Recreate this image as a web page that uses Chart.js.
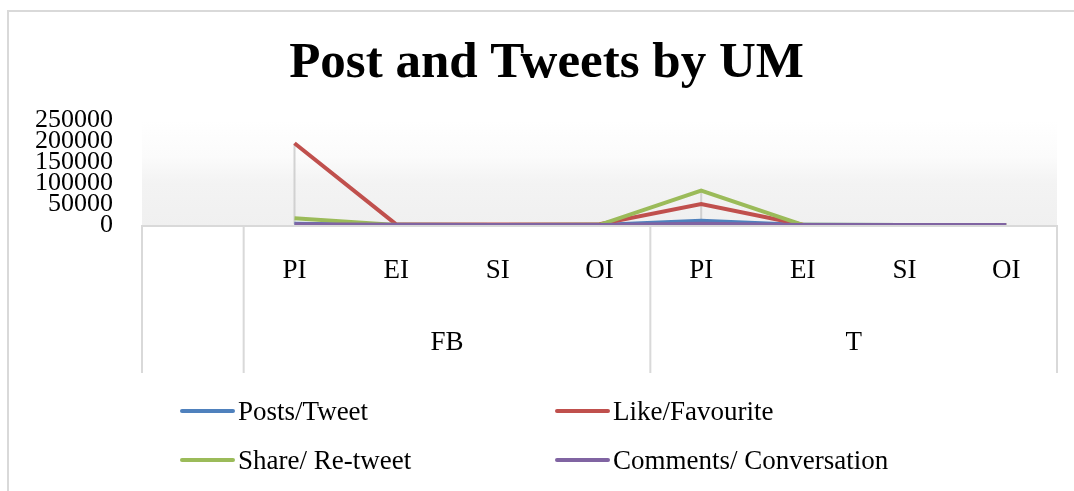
<!DOCTYPE html>
<html>
<head>
<meta charset="utf-8">
<script src="https://cdn.jsdelivr.net/npm/chart.js@4.4.1/dist/chart.umd.min.js"></script>
<style>
  html, body { margin: 0; padding: 0; background: #fff; }
  #wrap { position: relative; width: 1074px; height: 491px; overflow: hidden; }
  #frame { position: absolute; left: 7px; top: 10px; width: 1100px; height: 600px;
           border-left: 2px solid #d9d9d9; border-top: 2px solid #d9d9d9; }
  #chart { position: absolute; left: 0; top: 0; }
  #legend { position: absolute; left: 0; top: 0; width: 1074px; height: 491px; pointer-events: none;
            font-family: "Liberation Serif", "Times New Roman", serif; font-size: 27px; color: #000; }
  .item { position: absolute; display: flex; align-items: center; white-space: nowrap; }
  .item span.swatch { display: inline-block; width: 55px; height: 4px; border-radius: 2px; margin-right: 3px; }
</style>
</head>
<body>
<div id="wrap">
  <div id="frame"></div>
  <canvas id="chart" width="1074" height="491"></canvas>
  <div id="legend"></div>
</div>
<script>
// categories: first slot is empty in the original sheet
const subLabels = ['', 'PI', 'EI', 'SI', 'OI', 'PI', 'EI', 'SI', 'OI'];
const groupLabels = ['', 'FB', 'T'];
const groupSpans = [1, 4, 4]; // how many categories each group covers

const posts    = [null, 3000,   200,  100,  300, 10000, 300, 100, 200];
const likes    = [null, 195000, 1500, 1000, 2000, 50000, 500, 100, 200];
const shares   = [null, 16000,  300,  200,  500, 82000, 300, 100, 100];
const comments = [null, 2000,   300,  100,  200, 3000,  100, 50,  50];

const seriesNames = ['Posts/Tweet', 'Like/Favourite', 'Share/ Re-tweet', 'Comments/ Conversation'];
const seriesColors = ['#4f81bd', '#c0504d', '#9bbb59', '#8064a2'];

const FONT = '"Liberation Serif", "Times New Roman", serif';

function groupEdges(x) {
  const step = x.getPixelForValue(1) - x.getPixelForValue(0);
  const edges = [x.getPixelForValue(0) - step / 2];
  let idx = 0;
  groupSpans.forEach(n => { idx += n; edges.push(x.getPixelForValue(idx - 1) + step / 2); });
  return edges;
}

// gradient plot background, axis line, group dividers, faint high-low lines
const plotBg = {
  id: 'plotBg',
  beforeDatasetsDraw(chart) {
    const { ctx, chartArea: a } = chart;
    const x = chart.scales.x, y = chart.scales.y;
    ctx.save();
    const g = ctx.createLinearGradient(0, a.top, 0, a.bottom);
    g.addColorStop(0, '#ffffff');
    g.addColorStop(0.35, '#fbfbfb');
    g.addColorStop(0.6, '#f3f3f3');
    g.addColorStop(1, '#f0f0f0');
    ctx.fillStyle = g;
    ctx.fillRect(a.left, a.top, a.right - a.left, a.bottom - a.top);

    ctx.strokeStyle = '#d9d9d9';
    ctx.lineWidth = 2;
    ctx.beginPath();
    ctx.moveTo(a.left, a.bottom + 1);
    ctx.lineTo(a.right, a.bottom + 1);
    groupEdges(x).forEach(e => { ctx.moveTo(e, a.bottom); ctx.lineTo(e, x.bottom); });
    ctx.stroke();

    const all = chart.data.datasets.map(d => d.data);
    ctx.strokeStyle = 'rgba(200,200,200,0.8)';
    for (let i = 0; i < subLabels.length; i++) {
      const vals = all.map(d => d[i]).filter(v => v != null);
      if (!vals.length) continue;
      const px = x.getPixelForValue(i);
      ctx.beginPath();
      ctx.moveTo(px, y.getPixelForValue(Math.max(...vals)));
      ctx.lineTo(px, y.getPixelForValue(Math.min(...vals)));
      ctx.stroke();
    }
    ctx.restore();
  }
};

// second level of the category axis
const groupAxis = {
  id: 'groupAxis',
  afterDraw(chart) {
    const { ctx, chartArea: a } = chart;
    const edges = groupEdges(chart.scales.x);
    ctx.save();
    ctx.fillStyle = '#000';
    ctx.font = '27px ' + FONT;
    ctx.textAlign = 'center';
    ctx.textBaseline = 'middle';
    groupLabels.forEach((lbl, i) => {
      if (!lbl) return;
      ctx.fillText(lbl, (edges[i] + edges[i + 1]) / 2, a.bottom + 118);
    });
    ctx.restore();
  }
};

const chart = new Chart(document.getElementById('chart').getContext('2d'), {
  type: 'line',
  data: {
    labels: subLabels,
    datasets: [posts, likes, shares, comments].map((d, i) => ({
      label: seriesNames[i],
      data: d,
      borderColor: seriesColors[i],
      backgroundColor: seriesColors[i],
      borderWidth: 4,
      pointRadius: 0,
      tension: 0,
      order: 3 - i
    }))
  },
  options: {
    responsive: false,
    animation: false,
    layout: { padding: { left: 36, right: 17, top: 0, bottom: 118 } },
    plugins: {
      legend: { display: false },
      tooltip: { enabled: false },
      title: {
        display: true,
        text: 'Post and Tweets by UM',
        color: '#000',
        font: { family: FONT, size: 51, weight: 'bold' },
        padding: { top: 33, bottom: 26 }
      }
    },
    scales: {
      x: {
        offset: true,
        grid: { display: false, drawTicks: false },
        border: { display: false },
        ticks: { color: '#000', font: { family: FONT, size: 27 }, padding: 30, maxRotation: 0, autoSkip: false },
        afterFit(s) { s.height = 148; }
      },
      y: {
        min: 0, max: 250000,
        grid: { display: false, drawTicks: false },
        border: { display: false },
        ticks: { stepSize: 50000, autoSkip: false, color: '#000', padding: 29,
                 font: { family: FONT, size: 26, lineHeight: 0.8 },
                 callback: v => String(v) },
        afterFit(s) { s.width = 106; }
      }
    }
  },
  plugins: [plotBg, groupAxis]
});

// legend in two aligned columns, built from the datasets
const legendPos = [[180, 411], [555, 411], [180, 460], [555, 460]];
const legendEl = document.getElementById('legend');
chart.data.datasets.forEach((ds, i) => {
  const it = document.createElement('div');
  it.className = 'item';
  it.style.left = legendPos[i][0] + 'px';
  it.style.top = (legendPos[i][1] - 16) + 'px';
  it.style.height = '32px';
  const sw = document.createElement('span');
  sw.className = 'swatch';
  sw.style.background = ds.borderColor;
  it.appendChild(sw);
  it.appendChild(document.createTextNode(ds.label));
  legendEl.appendChild(it);
});
</script>
</body>
</html>
